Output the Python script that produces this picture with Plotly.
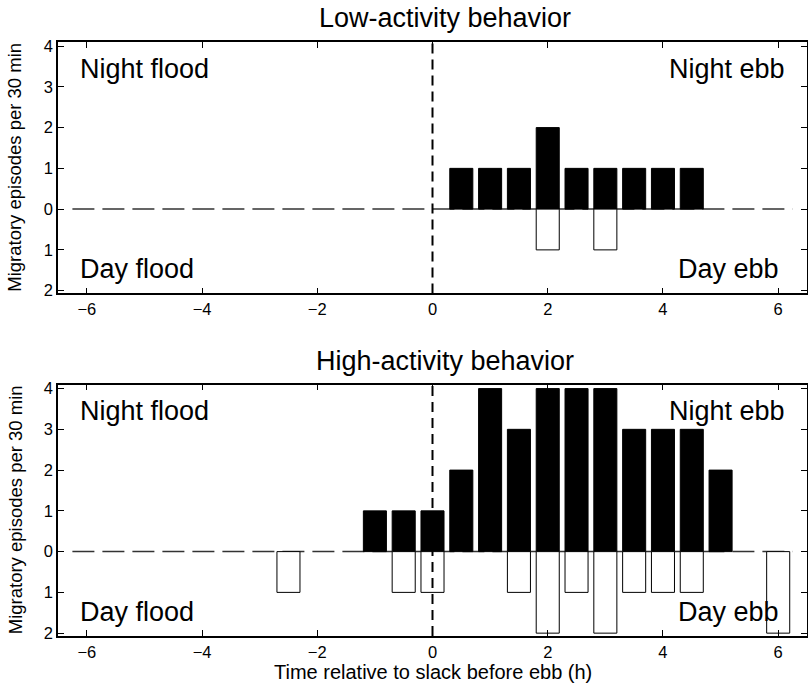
import plotly.graph_objects as go
from plotly.subplots import make_subplots

# ---- data (time bins in hours relative to slack before ebb) ----
low_night_x = [0.5, 1.0, 1.5, 2.0, 2.5, 3.0, 3.5, 4.0, 4.5]
low_night = [1, 1, 1, 2, 1, 1, 1, 1, 1]
low_day_x = [2.0, 3.0]
low_day = [1, 1]

high_night_x = [-1.0, -0.5, 0.0, 0.5, 1.0, 1.5, 2.0, 2.5, 3.0, 3.5, 4.0, 4.5, 5.0]
high_night = [1, 1, 1, 2, 4, 3, 4, 4, 4, 3, 3, 3, 2]
high_day_x = [-2.5, -0.5, 0.0, 1.5, 2.0, 2.5, 3.0, 3.5, 4.0, 4.5, 6.0]
high_day = [1, 1, 1, 1, 2, 1, 2, 1, 1, 1, 2]

panel_titles = ["Low-activity behavior", "High-activity behavior"]
x_ticks = [-6, -4, -2, 0, 2, 4, 6]
y_tickvals = [-2, -1, 0, 1, 2, 3, 4]
y_ticktext = ["2", "1", "0", "1", "2", "3", "4"]
x_title = "Time relative to slack before ebb (h)"
y_title = "Migratory episodes per 30 min"

FONT = "Liberation Sans, Arial, Helvetica, sans-serif"

fig = make_subplots(rows=2, cols=1, vertical_spacing=0.1532)

panels = [
    (low_night_x, low_night, low_day_x, low_day),
    (high_night_x, high_night, high_day_x, high_day),
]
for i, (nx, nv, dx, dv) in enumerate(panels, start=1):
    fig.add_trace(go.Bar(x=nx, y=nv, base=0, width=0.4,
                         marker=dict(color="black", line=dict(color="black", width=1)),
                         showlegend=False), row=i, col=1)
    fig.add_trace(go.Bar(x=dx, y=[-v for v in dv], base=0, width=0.4,
                         marker=dict(color="white", line=dict(color="black", width=1)),
                         showlegend=False), row=i, col=1)

fig.update_layout(barmode="overlay")

for i in (1, 2):
    xa = "x" if i == 1 else "x2"
    ya = "y" if i == 1 else "y2"
    # horizontal zero dashed line (behind bars)
    fig.add_shape(type="line", xref=xa, yref=ya, x0=-6.25, x1=6.25, y0=0, y1=0,
                  line=dict(color="#333333", width=1.5, dash="22px,8px"), layer="below")
    # vertical dashed line at slack
    fig.add_shape(type="line", xref=xa, yref=ya + " domain", x0=0, x1=0, y0=0, y1=1,
                  line=dict(color="black", width=2, dash="10px,6px"), layer="above")
    # panel title
    fig.add_annotation(xref=xa + " domain", yref=ya + " domain", x=0.5, y=1,
                       text=panel_titles[i - 1], showarrow=False, yanchor="middle",
                       xshift=12, yshift=24, font=dict(size=27, color="black", family=FONT))
    # y axis title
    fig.add_annotation(xref=xa + " domain", yref=ya + " domain", x=0, y=0.5,
                       text=y_title, showarrow=False, textangle=-90,
                       xanchor="center", yanchor="middle", xshift=-43,
                       font=dict(size=18.5, color="black", family=FONT))
    # quadrant labels
    for txt, xx, yy, xan in [("Night flood", -6.15, 3.45, "left"),
                             ("Night ebb", 6.15, 3.45, "right"),
                             ("Day flood", -6.15, -1.47, "left"),
                             ("Day ebb", 6.05, -1.47, "right")]:
        fig.add_annotation(xref=xa, yref=ya, x=xx, y=yy, text=txt, showarrow=False,
                           xanchor=xan, yanchor="middle",
                           font=dict(size=27, color="black", family=FONT))

# x axis title
fig.add_annotation(xref="x2 domain", yref="y2 domain", x=0.5, y=0, text=x_title,
                   showarrow=False, xanchor="center", yanchor="middle", yshift=-36,
                   font=dict(size=20, color="black", family=FONT))

axis_common = dict(showline=True, linecolor="black", linewidth=1.5, mirror="ticks",
                   ticks="inside", ticklen=6, tickwidth=1, tickcolor="black",
                   showgrid=False, zeroline=False, automargin=False,
                   tickfont=dict(size=16.5, color="black", family=FONT))

fig.update_xaxes(range=[-6.5, 6.5], tickvals=x_ticks, **axis_common)
fig.update_yaxes(range=[-2.07, 4.1], tickvals=y_tickvals, ticktext=y_ticktext,
                 **axis_common)

fig.update_layout(width=808, height=683, margin=dict(l=58, r=1, t=42, b=47),
                  plot_bgcolor="white", paper_bgcolor="white",
                  font=dict(family=FONT, color="black"))

fig.write_html("out.html", config={"displayModeBar": False},
               post_script="document.body.style.margin='0px';"
                           "document.body.style.overflow='hidden';")
